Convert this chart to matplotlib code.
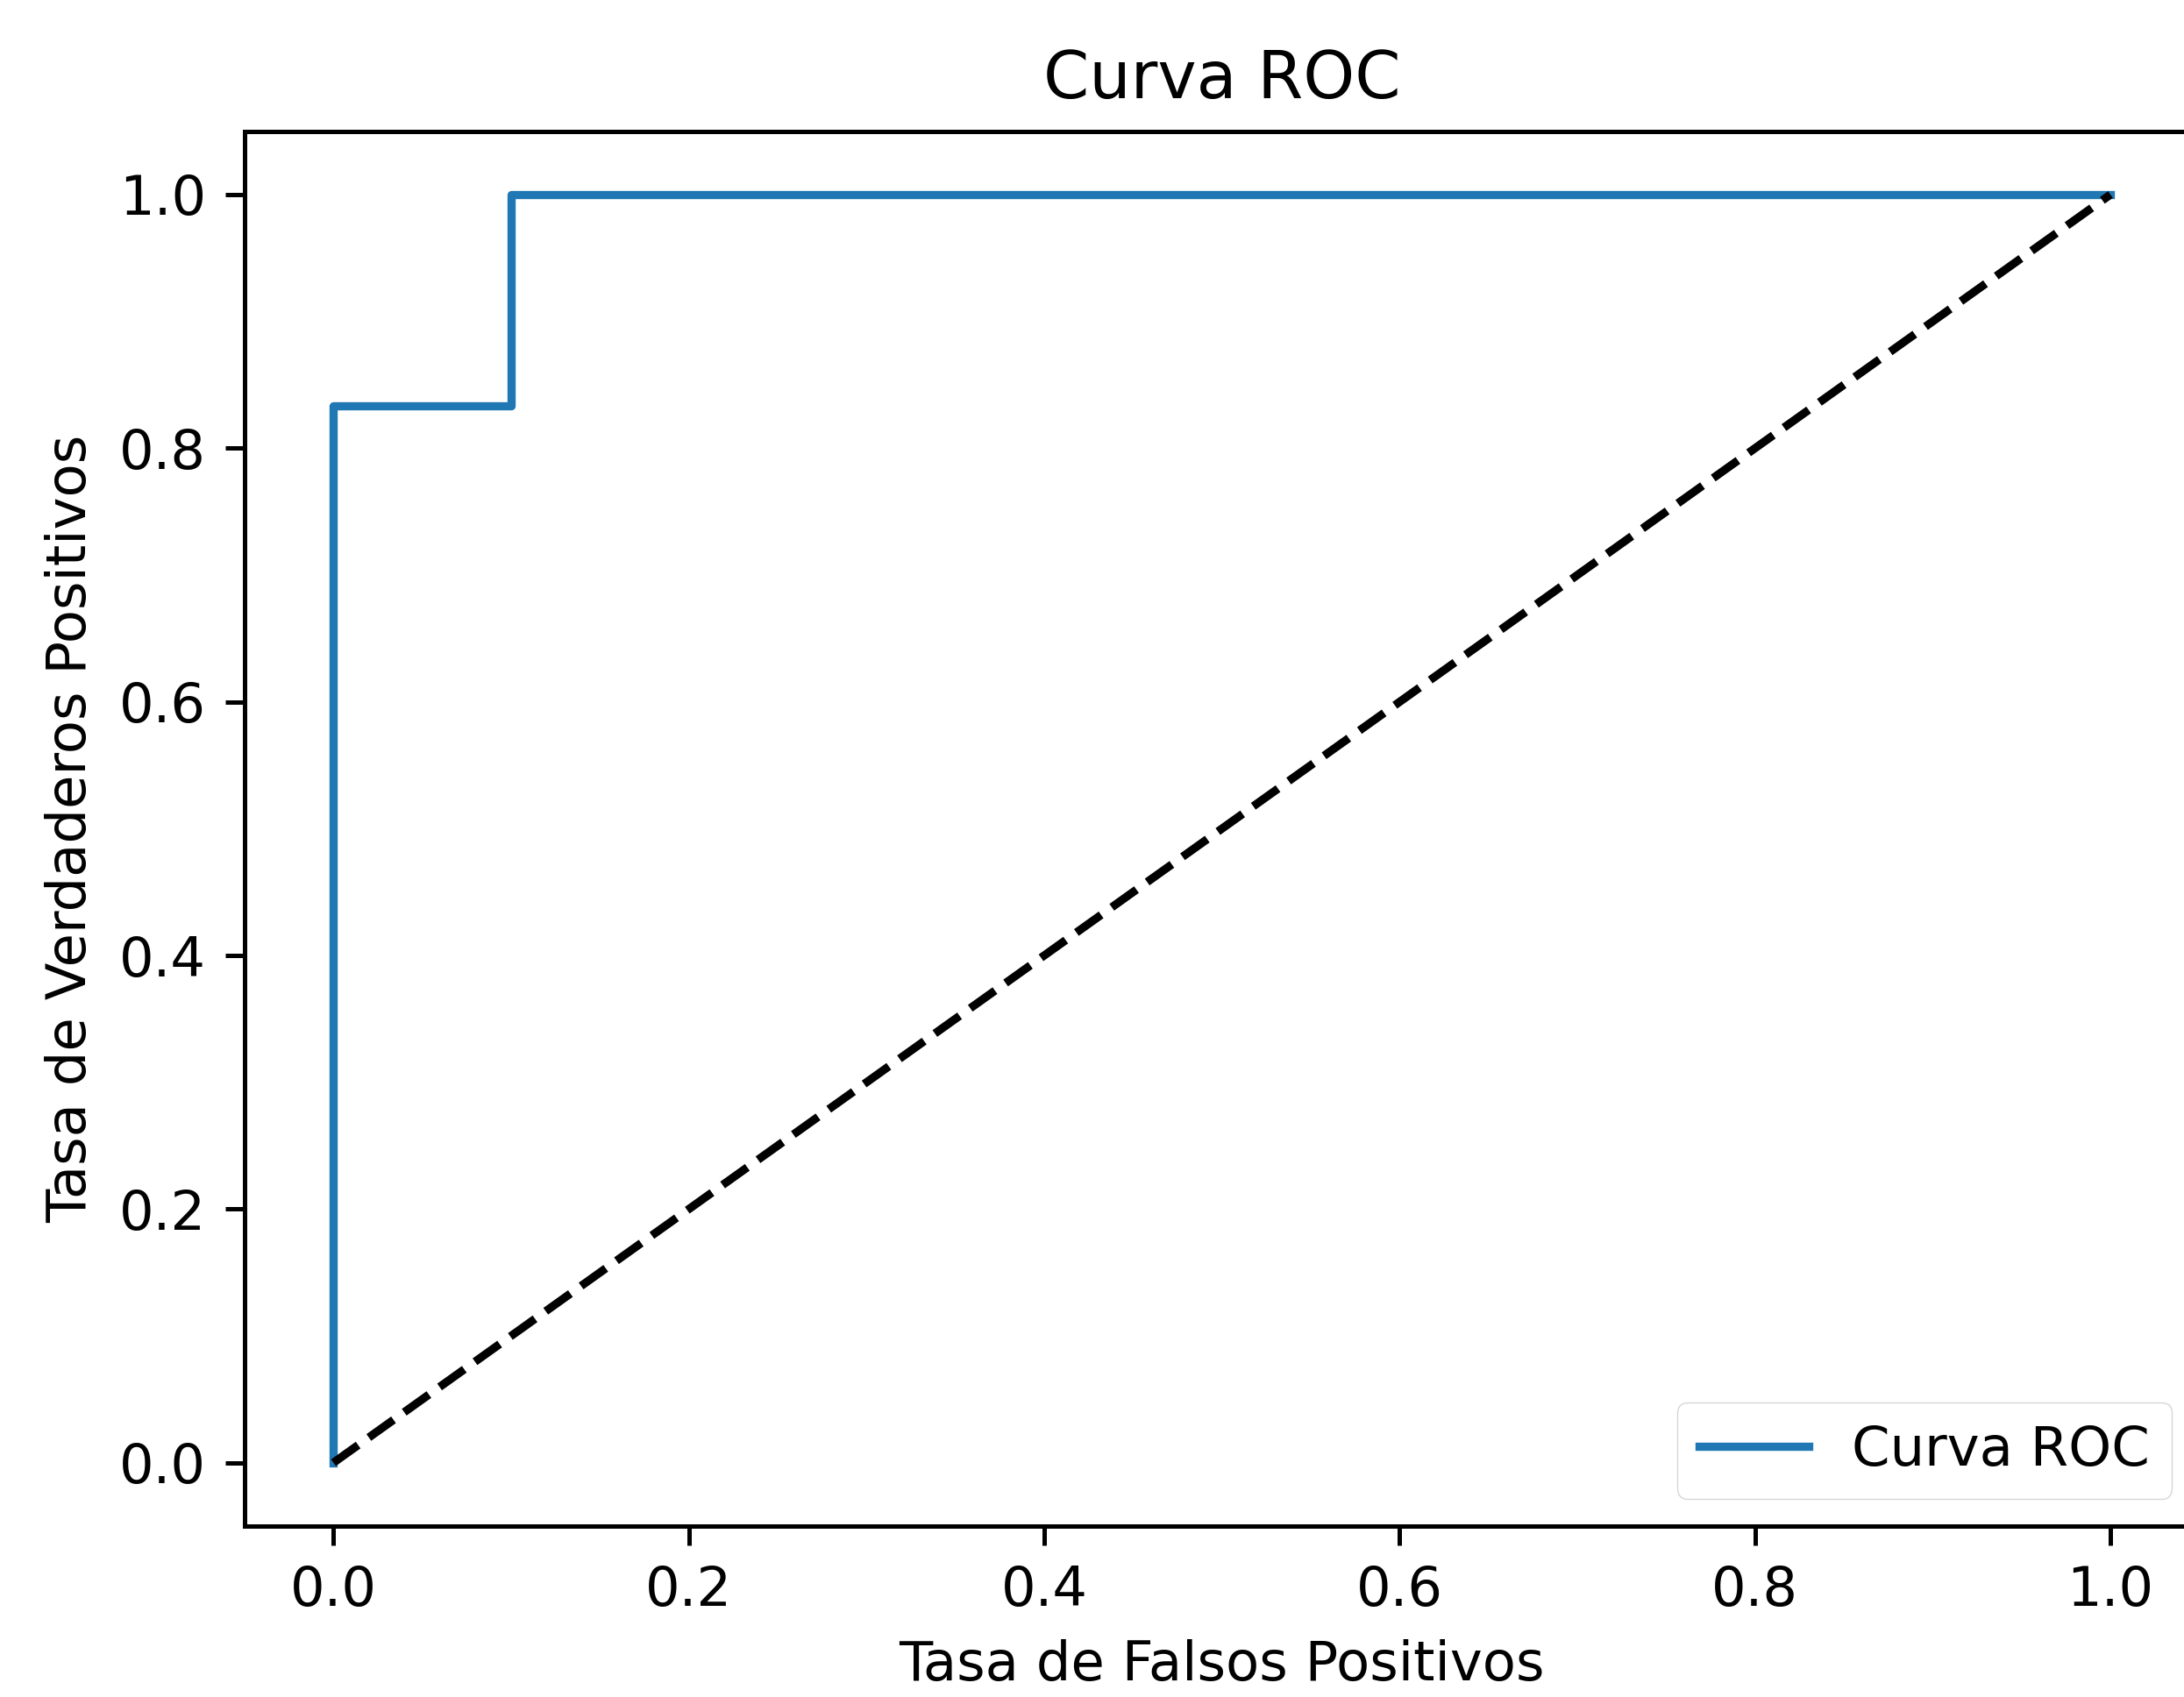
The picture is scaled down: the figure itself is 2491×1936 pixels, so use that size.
import matplotlib
matplotlib.use("Agg")
import matplotlib.pyplot as plt

fpr = [0.0, 0.0, 0.1, 0.1, 1.0]
tpr = [0.0, 0.8333, 0.8333, 1.0, 1.0]
diag_x = [0, 1]
diag_y = [0, 1]

s = 4.49
plt.rcParams['font.size'] = 10 * s
fig = plt.figure(figsize=(24.91, 19.36), dpi=100)
ax = fig.add_axes([0.112, 0.1007, 0.895, 0.822])
ax.plot(fpr, tpr, color='#1f77b4', lw=1.5 * s, label='Curva ROC')
ax.plot(diag_x, diag_y, 'k--', lw=1.5 * s)
ax.set_xlim(-0.05, 1.05)
ax.set_ylim(-0.05, 1.05)
ax.set_xlabel('Tasa de Falsos Positivos', labelpad=4 * s)
ax.set_ylabel('Tasa de Verdaderos Positivos', labelpad=4 * s)
ax.set_title('Curva ROC', pad=6 * s)
for sp in ax.spines.values():
    sp.set_linewidth(0.8 * s)
ax.tick_params(width=0.8 * s, length=3.5 * s, pad=3.5 * s)
ax.legend(loc='lower right', borderpad=0.4, handlelength=2.0)
fig.savefig('out.png', dpi=100)
